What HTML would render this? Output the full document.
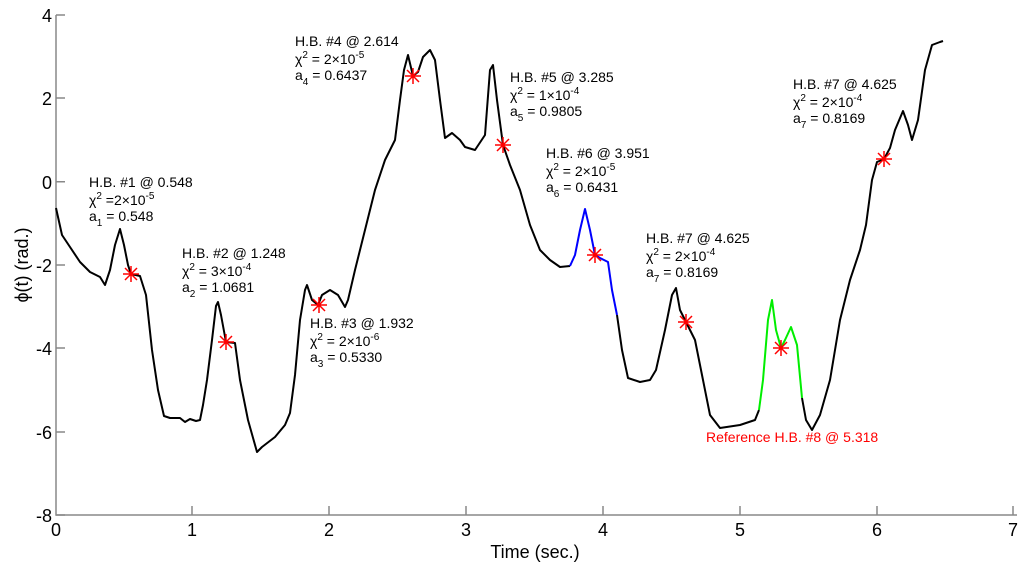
<!DOCTYPE html>
<html><head><style>
body{margin:0;background:#fff;}
svg{display:block;font-family:"Liberation Sans",Arial,sans-serif;}
.a{font-size:14px;fill:#000;white-space:pre}
.t{font-size:18px;fill:#000}
</style></head><body>
<svg width="1031" height="571" viewBox="0 0 1031 571">
<g stroke="#888" stroke-width="1.5" fill="none">
<path d="M56,15V515H1017"/>
<path d="M56,15h9M56,98h9M56,181.7h9M56,265h9M56,348h9M56,432h9M56,515h9"/>
<path d="M192,515v-9M329,515v-9M466,515v-9M603,515v-9M740,515v-9M877,515v-9M1013,515v-9"/>
</g>
<g class="t" text-anchor="end">
<text x="52" y="22">4</text><text x="52" y="105">2</text><text x="52" y="189">0</text>
<text x="52" y="272">-2</text><text x="52" y="355">-4</text><text x="52" y="439">-6</text><text x="52" y="522">-8</text>
</g>
<g class="t" text-anchor="middle">
<text x="56" y="536">0</text><text x="192" y="536">1</text><text x="329" y="536">2</text><text x="466" y="536">3</text>
<text x="603" y="536">4</text><text x="740" y="536">5</text><text x="877" y="536">6</text><text x="1013" y="536">7</text>
<text x="535" y="558">Time (sec.)</text>
<text transform="translate(28,265) rotate(-90)">ϕ(t) (rad.)</text>
</g>
<g fill="none" stroke-width="2" stroke-linejoin="round">
<path stroke="#000" d="M56,208 L62,235 L70,247 L80,262 L90,272 L100,277 L105,285 L110,270 L115,245 L120,229 L124,245 L128,265 L131,274 L140,276 L146,295 L152,350 L158,390 L164,416 L170,418 L180,418 L185,422 L190,419 L196,421 L200,420 L203,405 L207,380 L212,340 L216,306 L218,302 L221,315 L226,342 L235,343 L240,380 L248,420 L257,452 L262,447 L275,437 L285,425 L290,413 L295,375 L300,320 L305,290 L307,285 L312,300 L318,305 L322,295 L330,290 L338,295 L345,307 L348,300 L355,270 L365,230 L375,190 L385,160 L395,140 L400,100 L404,70 L408,55 L413,76 L418,72 L423,57 L430,50 L435,60 L440,100 L445,138 L452,133 L460,140 L465,147 L475,150 L485,135 L490,70 L493,65 L497,100 L503,145 L510,165 L520,190 L530,225 L540,250 L550,260 L560,267 L570,266"/>
<path stroke="#0000ff" d="M570,266 L575,255 L580,230 L585,209 L590,230 L595,255 L600,258 L608,262 L612,290 L617,315"/>
<path stroke="#000" d="M617,315 L622,350 L628,378 L640,382 L650,380 L656,370 L665,330 L672,295 L676,288 L680,310 L686,322 L695,340 L703,380 L710,415 L720,428 L740,425 L755,420 L759,410"/>
<path stroke="#00ee00" d="M759,410 L763,380 L768,320 L772,300 L776,330 L781,348 L785,340 L791,327 L797,345 L802,398"/>
<path stroke="#000" d="M802,398 L806,420 L812,430 L820,415 L830,380 L840,320 L850,280 L860,250 L866,225 L872,180 L877,162 L884,159 L890,148 L895,130 L903,111 L908,125 L912,140 L918,120 L925,70 L932,45 L940,42 L943,41"/>
</g>
<g stroke="#ff0000" stroke-width="1.5">
<path d="M131,266v16M123,274h16M125,268l12,12M137,268l-12,12" />
<path d="M226,334v16M218,342h16M220,336l12,12M232,336l-12,12" />
<path d="M319,297v16M311,305h16M313,299l12,12M325,299l-12,12" />
<path d="M413,68v16M405,76h16M407,70l12,12M419,70l-12,12" />
<path d="M503,137v16M495,145h16M497,139l12,12M509,139l-12,12" />
<path d="M595,247v16M587,255h16M589,249l12,12M601,249l-12,12" />
<path d="M686,314v16M678,322h16M680,316l12,12M692,316l-12,12" />
<path d="M781,340v16M773,348h16M775,342l12,12M787,342l-12,12" />
<path d="M884,151v16M876,159h16M878,153l12,12M890,153l-12,12" />
</g>
<g class="a">
<text x="89" y="187">H.B. #1 @ 0.548</text>
<text x="89" y="205">χ<tspan dy="-6" font-size="10">2</tspan><tspan dy="6"> =2×10</tspan><tspan dy="-6" font-size="10">-5</tspan></text>
<text x="89" y="221">a<tspan dy="5" font-size="10">1</tspan><tspan dy="-5"> =  0.548</tspan></text>
<text x="182" y="258">H.B. #2 @ 1.248</text>
<text x="182" y="276">χ<tspan dy="-6" font-size="10">2</tspan><tspan dy="6"> = 3×10</tspan><tspan dy="-6" font-size="10">-4</tspan></text>
<text x="182" y="292">a<tspan dy="5" font-size="10">2</tspan><tspan dy="-5"> =  1.0681</tspan></text>
<text x="310" y="328">H.B. #3 @ 1.932</text>
<text x="310" y="346">χ<tspan dy="-6" font-size="10">2</tspan><tspan dy="6"> = 2×10</tspan><tspan dy="-6" font-size="10">-6</tspan></text>
<text x="310" y="362">a<tspan dy="5" font-size="10">3</tspan><tspan dy="-5"> =  0.5330</tspan></text>
<text x="295" y="46">H.B. #4 @ 2.614</text>
<text x="295" y="64">χ<tspan dy="-6" font-size="10">2</tspan><tspan dy="6"> = 2×10</tspan><tspan dy="-6" font-size="10">-5</tspan></text>
<text x="295" y="80">a<tspan dy="5" font-size="10">4</tspan><tspan dy="-5"> =  0.6437</tspan></text>
<text x="510" y="82">H.B. #5 @ 3.285</text>
<text x="510" y="100">χ<tspan dy="-6" font-size="10">2</tspan><tspan dy="6"> = 1×10</tspan><tspan dy="-6" font-size="10">-4</tspan></text>
<text x="510" y="116">a<tspan dy="5" font-size="10">5</tspan><tspan dy="-5"> =  0.9805</tspan></text>
<text x="546" y="158">H.B. #6 @ 3.951</text>
<text x="546" y="176">χ<tspan dy="-6" font-size="10">2</tspan><tspan dy="6"> = 2×10</tspan><tspan dy="-6" font-size="10">-5</tspan></text>
<text x="546" y="192">a<tspan dy="5" font-size="10">6</tspan><tspan dy="-5"> =  0.6431</tspan></text>
<text x="646" y="243">H.B. #7 @ 4.625</text>
<text x="646" y="261">χ<tspan dy="-6" font-size="10">2</tspan><tspan dy="6"> = 2×10</tspan><tspan dy="-6" font-size="10">-4</tspan></text>
<text x="646" y="277">a<tspan dy="5" font-size="10">7</tspan><tspan dy="-5"> =  0.8169</tspan></text>
<text x="793" y="89">H.B. #7 @ 4.625</text>
<text x="793" y="107">χ<tspan dy="-6" font-size="10">2</tspan><tspan dy="6"> = 2×10</tspan><tspan dy="-6" font-size="10">-4</tspan></text>
<text x="793" y="123">a<tspan dy="5" font-size="10">7</tspan><tspan dy="-5"> =  0.8169</tspan></text>
<text x="706" y="442" style="fill:#f00">Reference H.B. #8 @ 5.318</text>
</g>
</svg>
</body></html>
